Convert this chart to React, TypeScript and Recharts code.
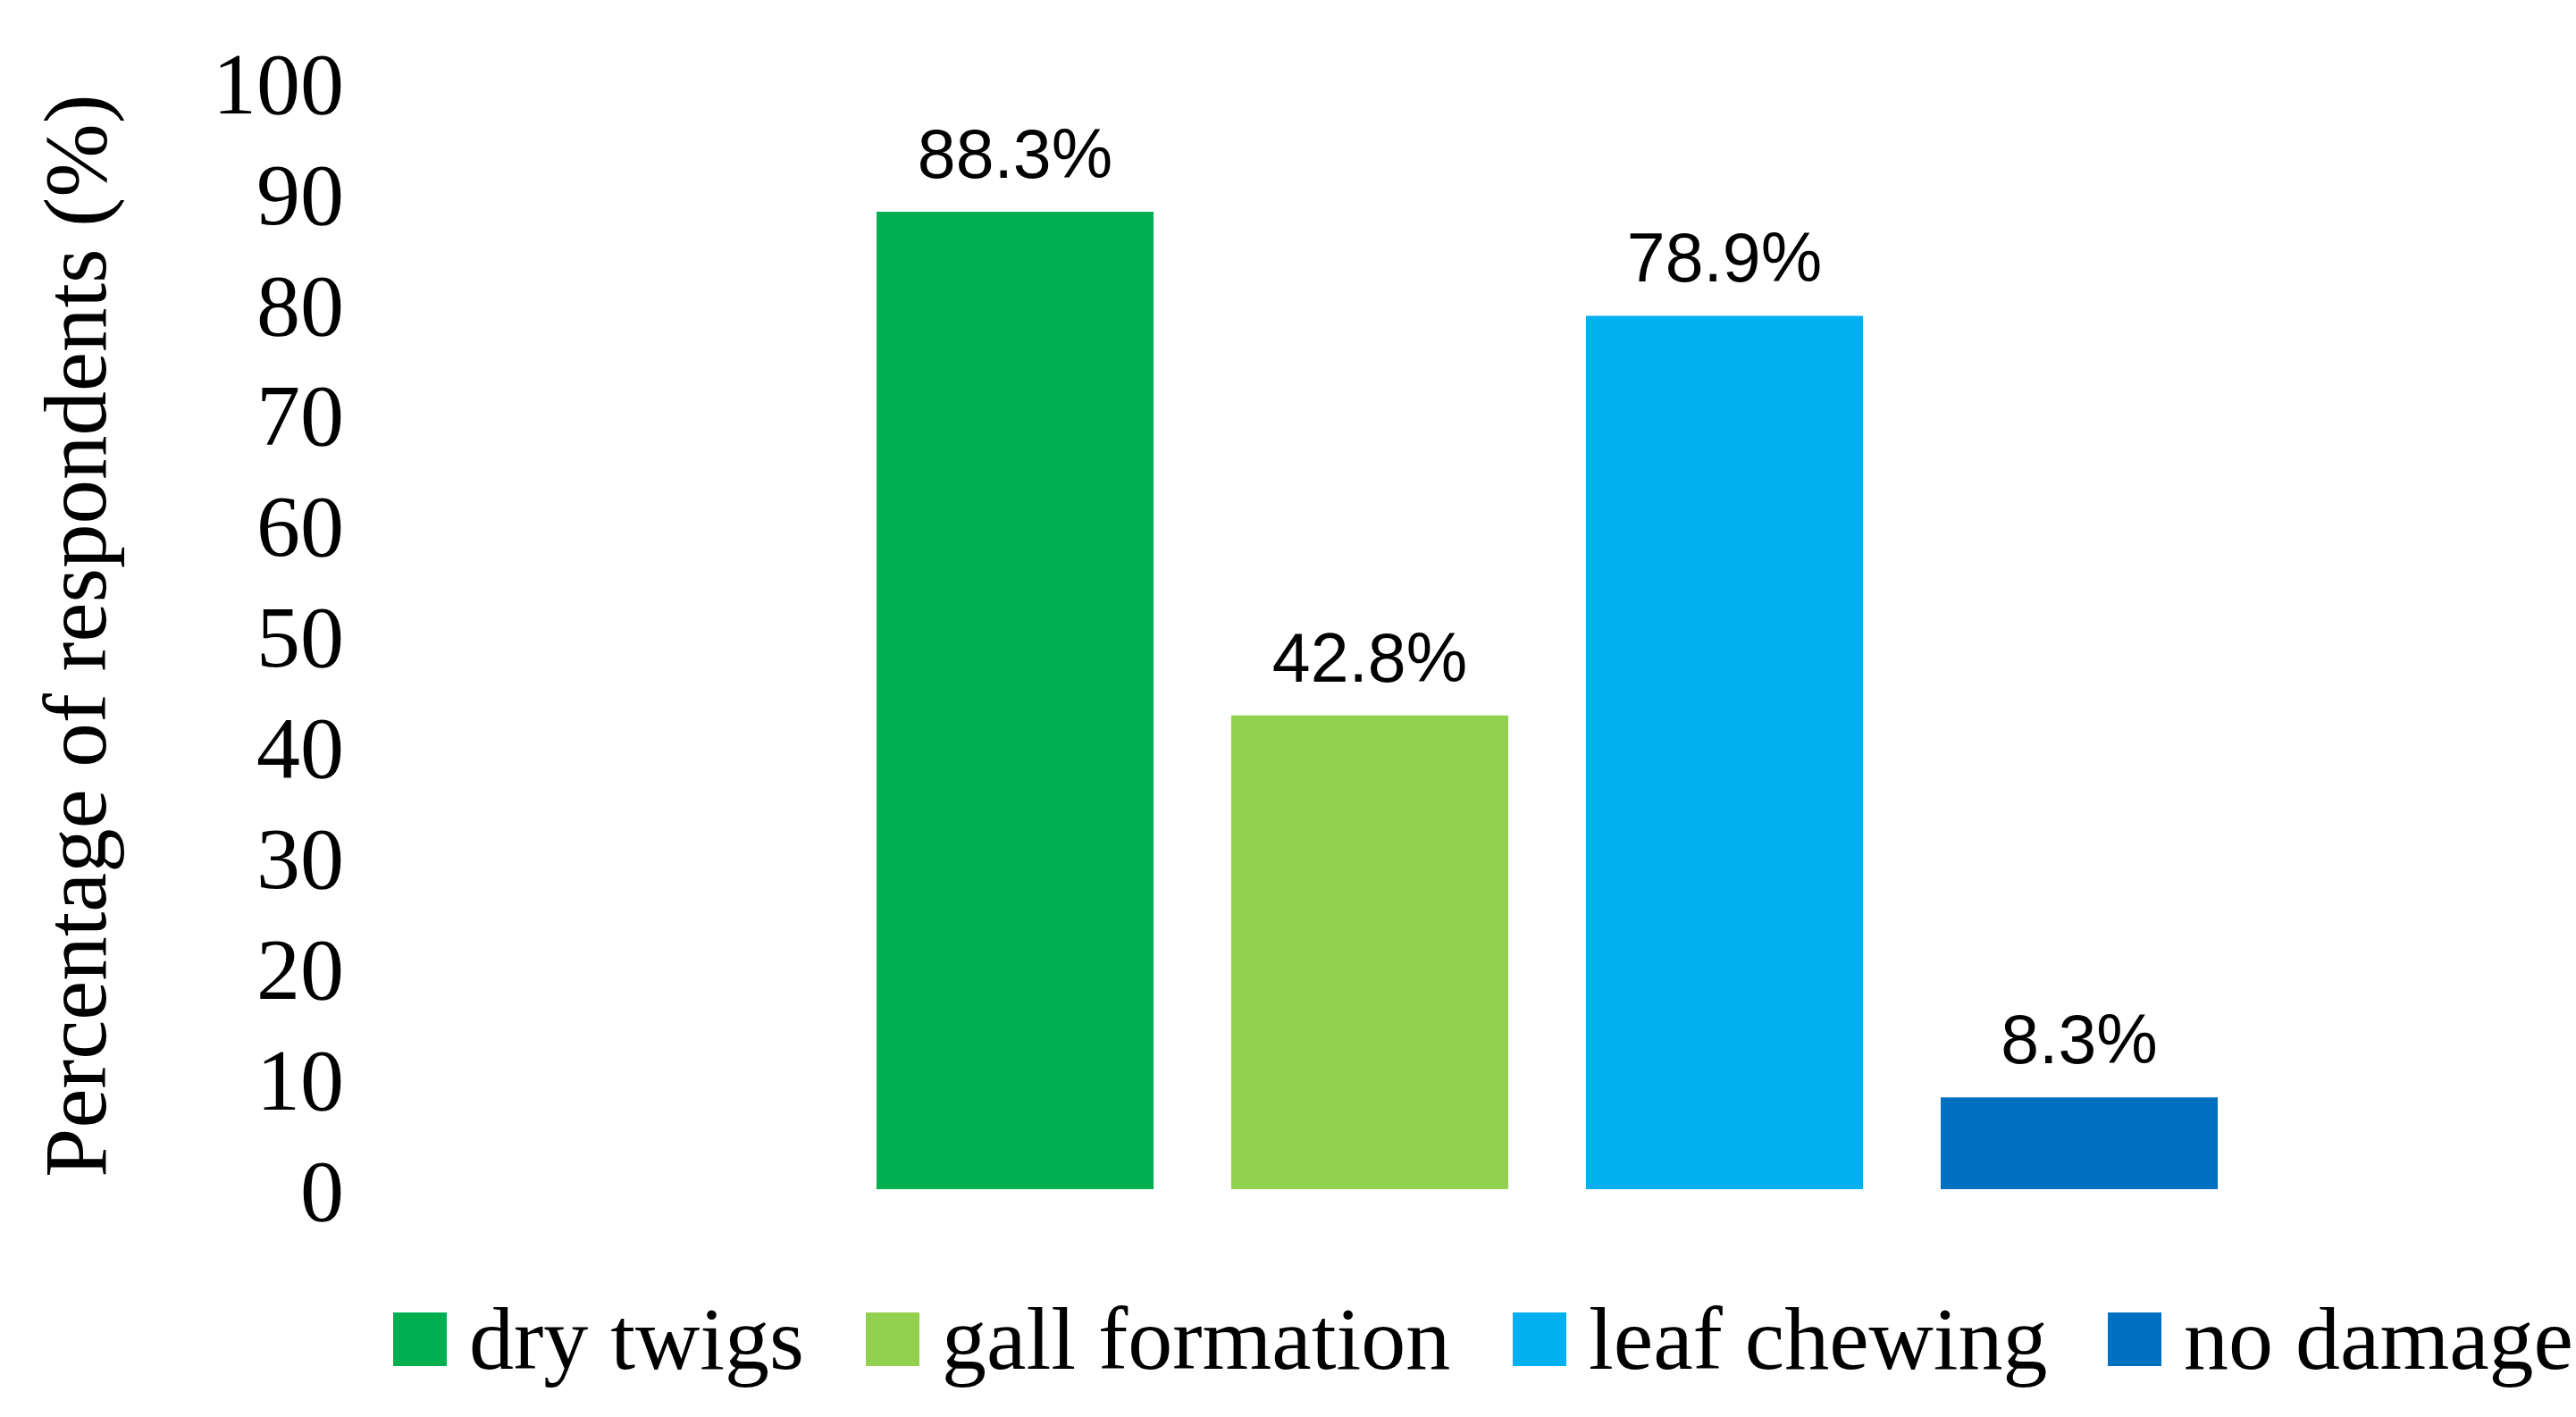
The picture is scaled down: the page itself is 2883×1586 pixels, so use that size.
import React from 'react';
import { BarChart, Bar, XAxis, YAxis, Legend, LabelList } from 'recharts';

const seriesNames = ['dry twigs', 'gall formation', 'leaf chewing', 'no damage'];
const seriesKeys = ['dryTwigs', 'gallFormation', 'leafChewing', 'noDamage'];
const seriesValues = [88.3, 42.8, 78.9, 8.3];
const seriesColors = ['#00B050', '#92D050', '#00B0F0', '#0070C0'];
const yTicks = [0, 10, 20, 30, 40, 50, 60, 70, 80, 90, 100];
const yLabel = 'Percentage of respondents (%)';

const SERIF = '"Liberation Serif", "Times New Roman", serif';
const SANS = '"Liberation Sans", Arial, sans-serif';

// legend slot widths (px) so the swatches sit where the original puts them
const legendSlots = [529, 724, 666, 520];

// one category, one bar per series (like the original clustered chart)
const chartData = [
  seriesKeys.reduce<Record<string, any>>((row, key, i) => {
    row[key] = seriesValues[i];
    return row;
  }, { category: 'damage' }),
];

const renderLegend = (props: any) => {
  const { payload = [] } = props;
  return (
    <div style={{ display: 'flex', alignItems: 'center', whiteSpace: 'nowrap', height: 100 }}>
      {payload.map((entry: any, i: number) => (
        <div
          key={entry.value}
          style={{ display: 'flex', alignItems: 'center', width: legendSlots[i], flex: 'none' }}
        >
          <div style={{ width: 60, height: 60, background: entry.color, marginRight: 25, flex: 'none' }} />
          <span style={{ fontFamily: SERIF, fontSize: 100, lineHeight: '100px', color: '#000' }}>{entry.value}</span>
        </div>
      ))}
    </div>
  );
};

const renderYLabel = (props: any) => {
  const vb = props.viewBox || { y: 0, height: 0 };
  const cx = 118;
  const cy = vb.y + vb.height / 2;
  return (
    <text
      x={cx}
      y={cy}
      transform={`rotate(-90, ${cx}, ${cy})`}
      textAnchor="middle"
      fontFamily={SERIF}
      fontSize={99}
      fill="#000"
    >
      {yLabel}
    </text>
  );
};

export default function App() {
  return (
    <div style={{ position: 'absolute', left: 0, top: 0, width: 2883, height: 1586, background: '#fff' }}>
      <BarChart
        width={2883}
        height={1586}
        data={chartData}
        margin={{ top: 92, right: 0, bottom: 255, left: 0 }}
        barSize={310}
        barGap={87}
      >
        <XAxis dataKey="category" hide />
        <YAxis
          domain={[0, 100]}
          ticks={yTicks}
          interval={0}
          width={580}
          axisLine={false}
          tickLine={false}
          tickSize={0}
          tickMargin={195}
          tick={{ fontFamily: SERIF, fontSize: 98, fill: '#000' }}
          label={{ content: renderYLabel }}
        />
        <Legend
          layout="horizontal"
          verticalAlign="middle"
          align="center"
          content={renderLegend}
          wrapperStyle={{ left: 440, top: 1449, width: 2443 }}
        />
        {seriesKeys.map((key, i) => (
          <Bar key={key} dataKey={key} name={seriesNames[i]} fill={seriesColors[i]} isAnimationActive={false}>
            <LabelList
              dataKey={key}
              position="top"
              offset={38}
              formatter={(v: any) => `${Number(v).toFixed(1)}%`}
              style={{ fontFamily: SANS, fontSize: 77, fill: '#000' }}
            />
          </Bar>
        ))}
      </BarChart>
    </div>
  );
}
